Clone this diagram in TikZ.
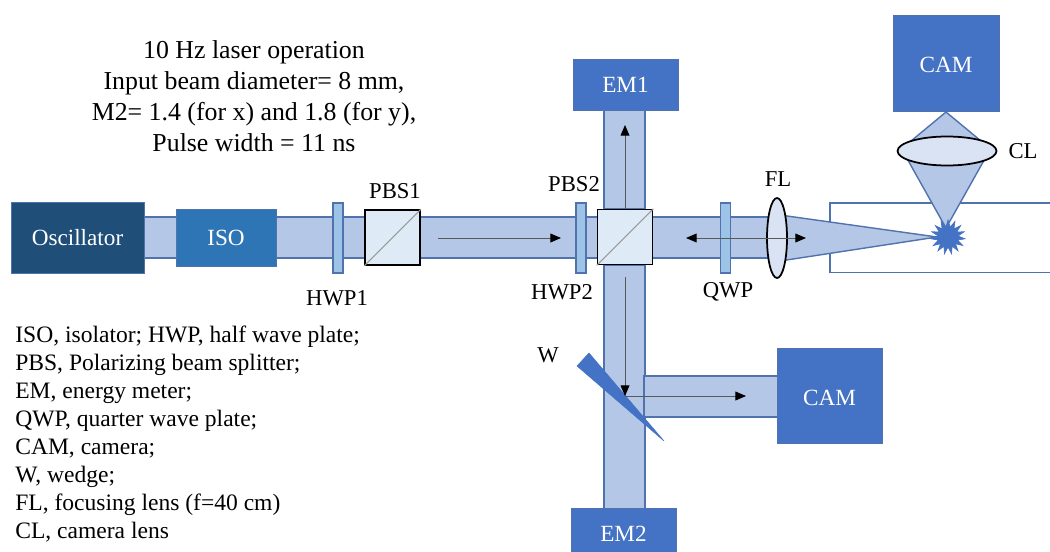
\documentclass[tikz,border=0pt]{standalone}
\usepackage{fontspec}
\usepackage{xcolor}
\setmainfont{Liberation Serif}
\usetikzlibrary{arrows.meta,shapes.geometric}
\definecolor{beamfill}{HTML}{B4C7E7}
\definecolor{beamline}{HTML}{5073AE}
\definecolor{instr}{HTML}{4472C4}
\definecolor{oscblue}{HTML}{1F4E79}
\definecolor{isoblue}{HTML}{2E75B6}
\definecolor{plateblue}{HTML}{9DC3E6}
\definecolor{cubefill}{HTML}{DEEBF7}
\definecolor{lensfill}{HTML}{DAE3F3}
\tikzset{
    sized/.style 2 args={minimum width=#1*0.02cm, minimum height=#2*0.02cm, inner sep=0pt},
    instrument/.style={draw=beamline, fill=instr, text=white, line width=0.5pt, font=\fontsize{13.2}{15}\selectfont},
    plate/.style={draw=beamline, fill=plateblue, line width=0.6pt, sized={10}{70}},
    cube/.style={draw=black, fill=cubefill, line width=0.9pt, sized={55}{55}},
    beam/.style={draw=beamline, fill=beamfill, line width=0.8pt},
    lens/.style={ellipse, draw=black, fill=lensfill, line width=1pt, inner sep=0pt},
    ray/.style={draw=black!65, line width=0.5pt, arrows={-{Triangle[length=6pt,width=5pt,black]}}},
    label/.style={font=\fontsize{12.9}{15}\selectfont, inner sep=0pt},
}
\begin{document}
\begin{tikzpicture}[x=0.02cm, y=-0.02cm]
    \path[use as bounding box, clip] (0,0) rectangle (1050,551);
    % Cell
    \draw[beamline, line width=0.8pt] (1052,203) -- (830,203) -- (830,272.5) -- (1052,272.5);
    % Beams
    \draw[beam] (144,217) rectangle (770,258);
    \draw[beam] (604,110) rectangle (645,209);
    \draw[beam] (604,265) rectangle (645,510);
    \draw[beam] (644,376) rectangle (780,417);
    \draw[beam] (780,215) -- (937,237) -- (780,261) -- cycle;
    \draw[beam] (946,112) -- (905,146) -- (987,146) -- cycle;
    \draw[beam] (905,155) -- (946,228) -- (987,155) -- cycle;
    % Instruments
    \node[instrument, fill=oscblue, sized={133}{71}] (osc) at (77.5,237.5) {Oscillator};
    \node[instrument, fill=isoblue, sized={100}{57}] (iso) at (226,238) {ISO};
    \node[instrument, sized={105}{51}] (em1) at (625.5,84.5) {EM1};
    \node[instrument, sized={105}{51}] (em2) at (623.5,534) {EM2};
    \node[instrument, sized={106}{96}, text height=11pt] (camtop) at (946,63) {CAM};
    \node[instrument, sized={105}{95}, text height=11pt] (camside) at (829.5,395.5) {CAM};
    % Plates and cubes
    \node[plate] (hwp1) at (338,238) {};
    \node[plate] (hwp2) at (581,238) {};
    \node[plate] (qwp) at (725.5,238) {};
    \node[cube] (pbs1) at (392.5,237.5) {};
    \node[cube] (pbs2) at (625,237) {};
    \draw[black!40, line width=0.6pt] (pbs1.south west) -- (pbs1.north east);
    \draw[black!40, line width=0.6pt] (pbs2.south west) -- (pbs2.north east);
    % Lenses
    \node[lens, sized={20}{80}] (fl) at (777,238) {};
    \node[lens, sized={99}{29}] (cl) at (947,151) {};
    % Wedge and spark
    \draw[draw=instr, fill=instr, line width=0.3pt] (577,366) -- (589,353) -- (664,441) -- cycle;
    \node[star, star points=15, star point ratio=1.7, draw=instr, fill=instr, sized={34}{34}] (spark) at (948,237) {};
    % Arrows
    \coordinate (inA) at (438,238);
    \coordinate (inB) at (561,238);
    \coordinate (upA) at (625,209);
    \coordinate (upB) at (625,125);
    \coordinate (bothA) at (686,238);
    \coordinate (bothB) at (806,238);
    \coordinate (downA) at (625,277);
    \coordinate (downB) at (625,396);
    \coordinate (sideB) at (746,396);
    \draw[ray] (inA) -- (inB);
    \draw[ray] (upA) -- (upB);
    \draw[ray, arrows={{Triangle[length=6pt,width=5pt,black]}-{Triangle[length=6pt,width=5pt,black]}}] (bothA) -- (bothB);
    \draw[ray] (downA) -- (downB);
    \draw[ray] (downB) -- (sideB);
    % Labels
    \node[label] (lhwp1) at (337,298) {HWP1};
    \node[label] (lpbs1) at (395,191) {PBS1};
    \node[label] (lpbs2) at (574,184) {PBS2};
    \node[label] (lhwp2) at (562,292) {HWP2};
    \node[label] (lqwp) at (728,292) {QWP};
    \node[label] (lfl) at (778,179) {FL};
    \node[label] (lcl) at (1023,151) {CL};
    \node[label] (lw) at (548,355) {W};
    % Text blocks
    \node[label, align=center, font=\fontsize{14.7}{17.6}\selectfont] (params) at (254,96.5) {10 Hz laser operation\\Input beam diameter= 8 mm,\\M2= 1.4 (for x) and 1.8 (for y),\\Pulse width = 11 ns};
    \node[label, align=left, anchor=north west, font=\fontsize{13.4}{15.9}\selectfont] (legend) at (15,326) {ISO, isolator; HWP, half wave plate;\\PBS, Polarizing beam splitter;\\EM, energy meter;\\QWP, quarter wave plate;\\CAM, camera;\\W, wedge;\\FL, focusing lens (f=40 cm)\\CL, camera lens};
\end{tikzpicture}
\end{document}
